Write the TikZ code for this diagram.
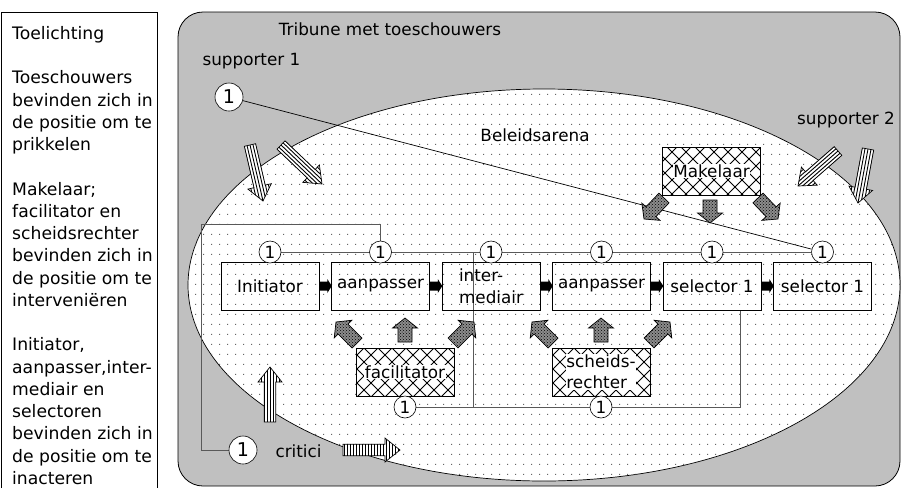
\documentclass[tikz,border=0pt]{standalone}
\usepackage{fontspec}
\setmainfont{DejaVu Sans}
\usetikzlibrary{patterns}
\pgfdeclarelayer{back}
\pgfdeclarelayer{lines}
\pgfsetlayers{back,lines,main}

\pgfdeclarepatternformonly{arenadots}{\pgfpointorigin}{\pgfpoint{8pt}{10pt}}{\pgfpoint{8pt}{10pt}}{%
  \pgfpathrectangle{\pgfpoint{3.5pt}{4.5pt}}{\pgfpoint{1pt}{1pt}}\pgfusepath{fill}}
\pgfdeclarepatternformonly{bigcross}{\pgfpoint{-1pt}{-1pt}}{\pgfpoint{15pt}{15pt}}{\pgfpoint{14pt}{14pt}}{%
  \pgfsetlinewidth{0.8pt}%
  \pgfpathmoveto{\pgfpointorigin}\pgfpathlineto{\pgfpoint{14pt}{14pt}}%
  \pgfpathmoveto{\pgfpoint{0pt}{14pt}}\pgfpathlineto{\pgfpoint{14pt}{0pt}}%
  \pgfusepath{stroke}}

% block arrow outline in a local frame: #1 length, #2 shaft half width, #3 head half width, #4 head length
\newcommand{\arrowpath}[4]{(0,-#2) -- ({#1-#4},-#2) -- ({#1-#4},-#3) -- (#1,0) -- ({#1-#4},#3) -- ({#1-#4},#2) -- (0,#2) -- cycle}

% striped arrow: tail (#1,#2), tip (#3,#4), #5 = 0 stripes along, 1 stripes across
\newcommand{\StripeArrow}[5]{%
  \pgfmathsetmacro\arang{atan2(-(#4-#2),#3-#1)}%
  \pgfmathsetmacro\arlen{veclen(#3-#1,#4-#2)}%
  \begin{scope}[shift={(#1,#2)},rotate=\arang]
    \fill[white] \arrowpath{\arlen}{5.8}{12}{15};
    \begin{scope}
      \clip \arrowpath{\arlen}{5.8}{12}{15};
      \ifnum#5=0
        \foreach \s in {-12,-9,...,12} \draw[line width=0.9pt] (0,\s) -- (\arlen,\s);
      \else
        \foreach \s in {1.5,4.5,...,62} \draw[line width=0.9pt] (\s,-13) -- (\s,13);
      \fi
    \end{scope}
    \draw[line width=0.7pt] \arrowpath{\arlen}{5.8}{12}{15};
  \end{scope}}

% textured grey arrow: tail (#1,#2), tip (#3,#4)
\newcommand{\GrayArrow}[4]{%
  \pgfmathsetmacro\arang{atan2(-(#4-#2),#3-#1)}%
  \pgfmathsetmacro\arlen{veclen(#3-#1,#4-#2)}%
  \begin{scope}[shift={(#1,#2)},rotate=\arang]
    \fill[black!45] \arrowpath{\arlen}{7}{12.5}{10};
    \fill[pattern=crosshatch dots, pattern color=black] \arrowpath{\arlen}{7}{12.5}{10};
    \draw[line width=0.7pt] \arrowpath{\arlen}{7}{12.5}{10};
  \end{scope}}

\definecolor{tribune}{RGB}{192,192,192}

\begin{document}
\begin{tikzpicture}[x=1pt,y=-1pt,
  every node/.style={font=\fontsize{16.8}{20}\selectfont},
  rolebox/.style={draw, line width=0.6pt, minimum width=98pt, minimum height=48pt, inner sep=0pt},
  hatchbox/.style={rolebox, fill=white, postaction={pattern=bigcross}},
  hatchlabel/.style={fill=white, inner sep=0.6pt, align=left},
  num/.style={circle, draw, fill=white, line width=0.6pt, minimum size=22pt, inner sep=0pt},
  bignum/.style={num, minimum size=28pt, font=\fontsize{19}{20}\selectfont},
  conn/.style={draw=black!65, line width=0.8pt},
]
\useasboundingbox (0,0) rectangle (902,488);

\begin{pgfonlayer}{back}
  \draw[line width=0.8pt] (1,488) -- (1,12) -- (157,12) -- (157,488);
  \draw[fill=tribune, line width=0.8pt, rounded corners=25pt] (178,12) rectangle (900,486);
  \draw[fill=white, line width=0.7pt] (544,285) ellipse [x radius=356pt, y radius=196pt];
  \fill[pattern=arenadots, pattern color=black!60] (544,285) ellipse [x radius=356pt, y radius=196pt];
\end{pgfonlayer}

% legend
\node[anchor=north west, align=left, inner sep=0pt, font=\fontsize{17.2}{22.25}\selectfont] (legend) at (12,26)
  {Toelichting\\[22.25pt]Toeschouwers\\bevinden zich in\\de positie om te\\prikkelen\\[22.25pt]Makelaar;\\facilitator en\\scheidsrechter\\bevinden zich in\\de positie om te\\interveniëren\\[22.25pt]Initiator,\\aanpasser,inter-\\mediair en\\selectoren\\bevinden zich in\\de positie om te\\inacteren};

% labels
\node (title) at (390,29) {Tribune met toeschouwers};
\node[anchor=west] (sup1lbl) at (199,61) {supporter 1};
\node (sup2lbl) at (846,120) {supporter 2};
\node (arena) at (535,135) {Beleidsarena};
\node[anchor=west] (critlbl) at (272,451) {critici};

% role boxes
\node[rolebox] (b1) at (270,286) {Initiator};
\node[rolebox] (b2) at (380.5,286) {aanpasser};
\node[rolebox, align=left, font=\fontsize{16.8}{22}\selectfont] (b3) at (491,286) {inter-\\mediair};
\node[rolebox] (b4) at (601.5,286) {aanpasser};
\node[rolebox] (b5) at (712,286) {selector 1};
\node[rolebox] (b6) at (822.5,286) {selector 1};

% hatched boxes
\node[hatchbox] (mak) at (711.5,171) {};
\node[hatchlabel] (makl) at (mak) {Makelaar};
\node[hatchbox] (fac) at (405,372) {};
\node[hatchlabel] (facl) at (fac) {facilitator};
\node[hatchbox] (sch) at (601,372) {};
\node[hatchlabel, font=\fontsize{16.8}{21}\selectfont] (schl) at (sch) {scheids-\\rechter};

% black arrows between boxes
\foreach \a in {b1,b2,b3,b4,b5}
  \fill[shift={(\a.east)}] (0,-4.5) -- (8,-4.5) -- (8,-7) -- (12.5,0) -- (8,7) -- (8,4.5) -- (0,4.5) -- cycle;

% striped arrows
\StripeArrow{250}{145}{263}{201}{0}
\StripeArrow{281}{145}{322}{184}{0}
\StripeArrow{838}{151}{798}{186}{0}
\StripeArrow{868}{149}{858}{203}{0}
\StripeArrow{270}{422}{270}{367}{0}
\StripeArrow{343}{450}{400}{450}{1}

% grey arrows
\GrayArrow{405}{342}{405}{318}
\GrayArrow{357}{343}{336}{322}
\GrayArrow{453}{343}{474}{322}
\GrayArrow{601}{342}{601}{318}
\GrayArrow{553}{343}{532}{322}
\GrayArrow{649}{343}{670}{322}
\GrayArrow{710}{200}{710}{223}
\GrayArrow{664}{198}{644}{219}
\GrayArrow{758}{198}{778}{219}

% circles
\node[bignum] (sup) at (229,97) {1};
\node[bignum] (crit) at (243,450) {1};
\node[num] (c1) at (270,252) {1};
\node[num] (c2) at (380.5,252) {1};
\node[num] (c3) at (491,252) {1};
\node[num] (c4) at (601.5,252) {1};
\node[num] (c5) at (712,252) {1};
\node[num] (c6) at (822.5,252) {1};
\node[num] (cf) at (405,407) {1};
\node[num] (cs) at (601,407) {1};

% connectors
\begin{pgfonlayer}{lines}
  \draw[conn] (c1) -- (c6);
  \coordinate (k1) at (201,224);
  \draw[conn] (crit) -| (k1) -| (c2);
  \coordinate (j1) at (473,252);
  \coordinate (j2) at (473,407);
  \draw[conn] (j1) -- (j2);
  \coordinate (k2) at (740,407);
  \draw[conn] (cf) -- (k2) -- (k2 |- b5.south);
  \draw[line width=0.7pt] (sup) -- (c6);
\end{pgfonlayer}
\end{tikzpicture}
\end{document}
